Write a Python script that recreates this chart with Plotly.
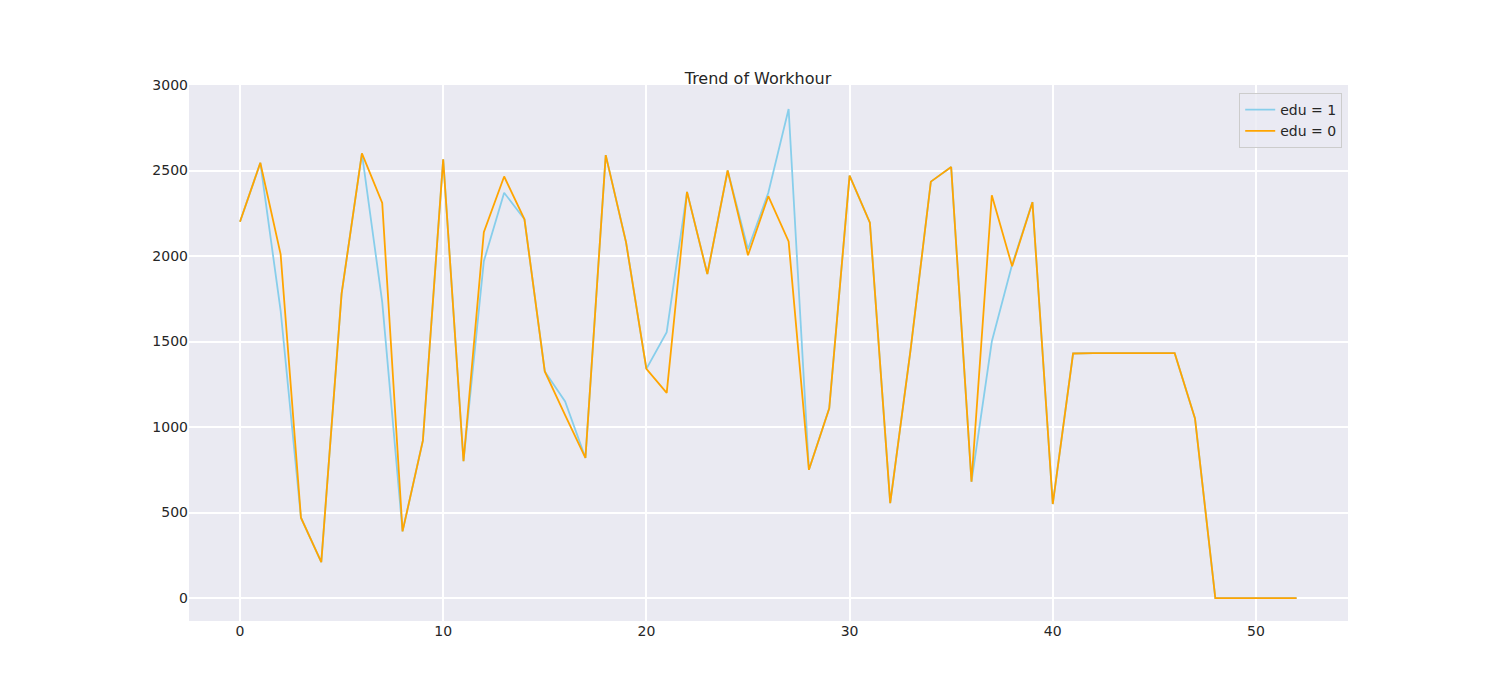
import plotly.graph_objects as go

x = list(range(53))
edu0 = [2200, 2545, 2010, 470, 210, 1780, 2600, 2310, 390, 920,
        2565, 800, 2140, 2465, 2215, 1325, 1070, 820, 2590, 2080,
        1340, 1200, 2375, 1895, 2500, 2005, 2350, 2085, 750, 1110,
        2470, 2195, 555, 1450, 2435, 2520, 680, 2355, 1940, 2315,
        550, 1430, 1432, 1433, 1432, 1432, 1432, 1050, 0, 0,
        0, 0, 0]
edu1 = list(edu0)
diffs = {2: 1680, 7: 1730, 12: 1970, 13: 2370, 16: 1150, 21: 1555,
         25: 2040, 26: 2370, 27: 2860, 37: 1500, 38: 1950}
for k, v in diffs.items():
    edu1[k] = v

fig = go.Figure()
fig.add_trace(go.Scatter(x=x, y=edu1, mode="lines", name="edu = 1", line=dict(color="skyblue", width=1.8)))
fig.add_trace(go.Scatter(x=x, y=edu0, mode="lines", name="edu = 0", line=dict(color="orange", width=1.8)))

fig.update_layout(
    width=1500, height=700,
    paper_bgcolor="white", plot_bgcolor="#eaeaf2",
    font=dict(family="DejaVu Sans", size=14, color="#262626"),
    title=dict(text="Trend of Workhour", x=0.5, xanchor="center", y=0.9, yanchor="middle", font=dict(size=16)),
    margin=dict(l=181, r=160, t=77, b=87),
    showlegend=True,
    legend=dict(x=0.995, y=0.985, xanchor="right", yanchor="top", bgcolor="rgba(234,234,242,0.8)",
                bordercolor="#cccccc", borderwidth=1, font=dict(size=14)),
    xaxis=dict(range=[-2.51, 54.53], tickvals=[0, 10, 20, 30, 40, 50], gridcolor="white", gridwidth=1.5,
               zeroline=False, showline=False, ticks=""),
    yaxis=dict(range=[-134, 3000], tickvals=[0, 500, 1000, 1500, 2000, 2500, 3000], gridcolor="white",
               gridwidth=1.5, zeroline=False, showline=False, ticks="", ticksuffix="  "),
)

fig.write_html("out.html")
